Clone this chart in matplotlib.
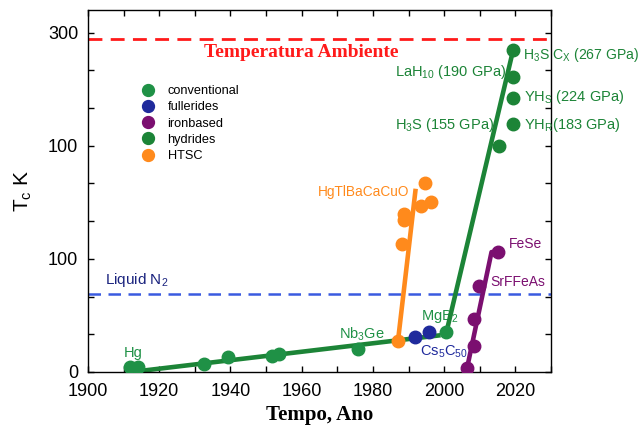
import matplotlib
matplotlib.use("Agg")
import matplotlib.pyplot as plt
from matplotlib.ticker import MultipleLocator

plt.rcParams["font.family"] = ["Liberation Sans", "DejaVu Sans"]
plt.rcParams["mathtext.fontset"] = "custom"
plt.rcParams["mathtext.rm"] = "Liberation Sans"
plt.rcParams["mathtext.it"] = "Liberation Sans"
plt.rcParams["mathtext.bf"] = "Liberation Sans:bold"

# ---- data ----
conv_year = [1911.7, 1913.9, 1932.5, 1939.4, 1951.8, 1953.7, 1975.8, 2000.4]
conv_tc = [4.0, 4.5, 7.5, 13, 14, 16, 20, 35]
conv_line_year = [1913.5, 1999.0]
conv_line_tc = [0.5, 32.5]

hyd_year = [2015.5, 2019.2, 2019.2, 2019.2, 2019.4]
hyd_tc = [200, 219, 242, 261, 285]
hyd_line_year = [2001.0, 2019.4]
hyd_line_tc = [40, 285]

full_year = [1991.7, 1995.7]
full_tc = [31, 35]

iron_year = [2006.3, 2008.5, 2008.5, 2009.9, 2015.2]
iron_tc = [3.5, 23, 47, 76, 106]
iron_line_year = [2006.2, 2013.3, 2015.2]
iron_line_tc = [0, 106, 106]

htsc_year = [1987.0, 1988.2, 1988.7, 1988.7, 1993.4, 1994.5, 1996.2]
htsc_tc = [27, 113, 134, 140, 147, 167, 150]
htsc_line_year = [1987.0, 1992.0]
htsc_line_tc = [26.5, 162]

ambient_tc = 294
ln2_tc = 69

yticks = [0, 100, 200, 300]
ytick_labels = ["0", "100", "100", "300"]
xticks = [1900, 1920, 1940, 1960, 1980, 2000, 2020]

c_conv = "#1f9146"
c_hyd = "#1c8437"
c_full = "#1f2a9c"
c_iron = "#7b0f70"
c_htsc = "#ff8a1c"
c_navy = "#1a237e"

fig = plt.figure(figsize=(6.41, 4.26), dpi=100)
ax = fig.add_axes([88/641, 54/426, 463/641, 362/426])

ms = 9
lw = 3.3
ax.plot(conv_line_year, conv_line_tc, color=c_hyd, lw=lw, solid_capstyle="butt", zorder=2)
ax.plot(hyd_line_year, hyd_line_tc, color=c_hyd, lw=lw, solid_capstyle="butt", zorder=2)
ax.plot(htsc_line_year, htsc_line_tc, color=c_htsc, lw=lw, solid_capstyle="butt", zorder=2)
ax.plot(iron_line_year, iron_line_tc, color=c_iron, lw=lw, solid_capstyle="butt", zorder=2)

ax.plot(conv_year, conv_tc, "o", color=c_conv, ms=ms, ls="none", label="conventional", zorder=3)
ax.plot(full_year, full_tc, "o", color=c_full, ms=ms, ls="none", label="fullerides", zorder=3)
ax.plot(iron_year, iron_tc, "o", color=c_iron, ms=ms, ls="none", label="ironbased", zorder=3)
ax.plot(hyd_year, hyd_tc, "o", color=c_hyd, ms=ms, ls="none", label="hydrides", zorder=3)
ax.plot(htsc_year, htsc_tc, "o", color=c_htsc, ms=ms, ls="none", label="HTSC", zorder=3)

ax.axhline(ambient_tc, color="#ff1a1a", lw=2, dashes=(5, 3), zorder=1)
ax.axhline(ln2_tc, color="#3a5be0", lw=1.8, dashes=(5, 3), zorder=1)

ax.set_xlim(1900, 2030)
ax.set_ylim(0, 320)
ax.set_xticks(xticks)
ax.xaxis.set_minor_locator(MultipleLocator(10))
ax.set_yticks(yticks)
ax.set_yticklabels(ytick_labels)
ax.yaxis.set_minor_locator(MultipleLocator(100/3))
ax.tick_params(which="both", direction="in", top=True, right=True, length=4, width=1, labelsize=13)
ax.tick_params(axis="x", pad=8)
ax.tick_params(axis="y", pad=7)
for s in ax.spines.values():
    s.set_linewidth(1)

ax.set_xlabel("Tempo, Ano", family="Liberation Serif", fontweight="bold", fontsize=15)
ax.xaxis.set_label_coords(0.5, -0.09)
ax.set_ylabel("T$_\\mathregular{c}$ K", fontsize=15)
ax.yaxis.set_label_coords(-0.117, 0.5)

leg = ax.legend(loc="upper left", bbox_to_anchor=(0.1, 0.81), frameon=False, fontsize=9.2,
                handletextpad=0.9, labelspacing=0.33, markerscale=0.95, borderpad=0.0,
                handlelength=1.2)

fs = 10.5
ax.text(1959.9, 282, "Temperatura Ambiente", color="#ff1a1a", family="Liberation Serif",
        fontweight="bold", fontsize=14, ha="center", va="center")
ax.text(1904.8, 81, "Liquid N$_2$", color=c_navy, fontsize=11, ha="left", va="center")
ax.text(1977.3, 159, "HgTlBaCaCuO", color=c_htsc, fontsize=9.8, ha="center", va="center")
ax.text(1976.8, 33, "Nb$_3$Ge", color=c_conv, fontsize=fs, ha="center", va="center")
ax.text(1993.4, 49, "MgB$_2$", color=c_conv, fontsize=fs, ha="left", va="center", zorder=1)
ax.text(1993.1, 18, "Cs$_5$C$_{50}$", color=c_full, fontsize=fs, ha="left", va="center")
ax.text(1912.7, 17, "Hg", color=c_conv, fontsize=fs, ha="center", va="center")
ax.text(2018.3, 113, "FeSe", color=c_iron, fontsize=10, ha="left", va="center")
ax.text(2013.0, 80, "SrFFeAs", color=c_iron, fontsize=10, ha="left", va="center")
ax.text(2022.0, 280, "H$_3$S C$_X$ (267 GPa)", color=c_hyd, fontsize=10.1, ha="left", va="center")
ax.text(2017.5, 265, "LaH$_{10}$ (190 GPa)", color=c_hyd, fontsize=fs, ha="right", va="center")
ax.text(2022.5, 243, "YH$_S$ (224 GPa)", color=c_hyd, fontsize=fs, ha="left", va="center")
ax.text(2022.5, 218.6, "YH$_R$(183 GPa)", color=c_hyd, fontsize=fs, ha="left", va="center")
ax.text(2014.1, 218.6, "H$_3$S (155 GPa)", color=c_hyd, fontsize=fs, ha="right", va="center")

fig.savefig("out.png", dpi=100)
